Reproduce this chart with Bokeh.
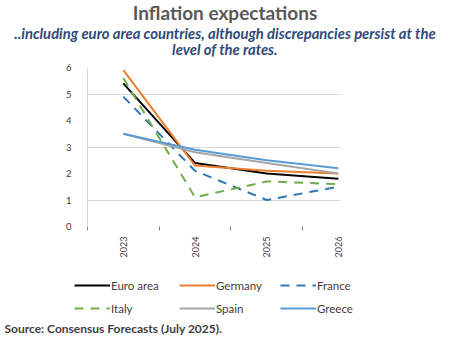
import math
from bokeh.plotting import figure
from bokeh.layouts import column
from bokeh.models import Range1d, FixedTicker, Legend, LegendItem
from bokeh.core.properties import value
from bokeh.embed import file_html
from bokeh.resources import INLINE

# ---- data ----
years = [2023, 2024, 2025, 2026]
year_labels = ["2023", "2024", "2025", "2026"]
euro_area = [5.4, 2.4, 2.0, 1.8]
germany = [5.9, 2.3, 2.1, 2.0]
france = [4.9, 2.1, 1.0, 1.5]
italy = [5.6, 1.1, 1.7, 1.6]
spain = [3.5, 2.8, 2.4, 2.0]
greece = [3.5, 2.9, 2.5, 2.2]
y_ticks = [0, 1, 2, 3, 4, 5, 6]
grid_ticks = [1, 3, 5]
cat_bounds = [2022.5, 2023.5, 2024.5, 2025.5]

title_text = "Inflation expectations"
subtitle1 = "..including euro area countries, although discrepancies persist at the"
subtitle2 = "level of the rates."
source_text = "Source: Consensus Forecasts (July 2025)."

series = [
    ("Euro area", euro_area, "black", None),
    ("Germany", germany, "#ED7D31", None),
    ("France", france, "#2E75B6", "9 7"),
    ("Italy", italy, "#70AD47", "9 7"),
    ("Spain", spain, "#A5A5A5", None),
    ("Greece", greece, "#5B9BD5", None),
]

FONT = "Lato"
W = 449


def no_align(f):
    if "frame_align" in f.properties():
        f.frame_align = False


def blank_fig(h):
    f = figure(width=W, height=h, output_backend="svg", toolbar_location=None,
               x_range=Range1d(0, W), y_range=Range1d(h, 0),
               x_axis_type=None, y_axis_type=None, min_border=0)
    f.outline_line_color = None
    f.grid.visible = False
    no_align(f)
    return f


# ---- header ----
header = blank_fig(62)
header.text(x=[W / 2], y=[12], text=[title_text], text_font=value(FONT),
            text_font_size="19px", text_font_style="bold", text_color="#595959",
            text_align="center", text_baseline="middle")
header.text(x=[W / 2, W / 2], y=[32, 48], text=[subtitle1, subtitle2],
            text_font=value(FONT), text_font_size="14.8px",
            text_font_style="bold italic", text_color="#2F4A7A",
            text_align="center", text_baseline="middle")

# ---- main chart ----
p = figure(width=W, height=206, output_backend="svg", toolbar_location=None,
           x_range=Range1d(2022.5, 2026.03), y_range=Range1d(0, 6),
           min_border_left=87, min_border_right=109, min_border_top=5,
           min_border_bottom=42)
p.outline_line_color = None
no_align(p)

p.yaxis.ticker = FixedTicker(ticks=y_ticks)
p.yaxis.axis_line_color = "#D9D9D9"
p.yaxis.major_tick_line_color = None
p.yaxis.minor_tick_line_color = None
p.yaxis.major_label_standoff = 10
p.yaxis.major_label_text_font = FONT
p.yaxis.major_label_text_font_size = "9.5px"
p.yaxis.major_label_text_color = "#404040"

p.xaxis.ticker = FixedTicker(ticks=years, minor_ticks=cat_bounds)
p.xaxis.major_label_overrides = {y: l for y, l in zip(years, year_labels)}
p.xaxis.axis_line_color = None
p.xaxis.major_tick_line_color = None
p.xaxis.minor_tick_line_color = "#808080"
p.xaxis.minor_tick_out = 4
p.xaxis.minor_tick_in = 0
p.xaxis.major_label_orientation = math.pi / 2
p.xaxis.major_label_standoff = 4
p.xaxis.major_label_text_font = FONT
p.xaxis.major_label_text_font_size = "9px"
p.xaxis.major_label_text_color = "#404040"

p.xgrid.grid_line_color = None
p.ygrid.ticker = FixedTicker(ticks=grid_ticks)
p.ygrid.grid_line_color = "#D9D9D9"

for name, vals, color, dash in series:
    kw = dict(line_color=color, line_width=2)
    if dash:
        kw["line_dash"] = dash
    p.line(years, vals, **kw)

# ---- footer with legend and source ----
footer = blank_fig(72)
leg_r = {}
for name, vals, color, dash in series:
    kw = dict(line_color=color, line_width=2)
    if dash:
        kw["line_dash"] = dash
    # same series, lying outside this strip's visible range: only used as legend keys
    leg_r[name] = footer.line(years, vals, **kw)


def make_legend(names, x):
    lg = Legend(items=[LegendItem(label=n, renderers=[leg_r[n]]) for n in names],
                location=(x, 22), orientation="vertical",
                glyph_width=36, glyph_height=20, spacing=3, padding=0, margin=0,
                label_standoff=1, label_text_font=FONT, label_text_font_size="11.5px",
                label_text_color="#404040", border_line_color=None,
                background_fill_alpha=0)
    footer.add_layout(lg, "center")


make_legend(["Euro area", "Italy"], 74)
make_legend(["Germany", "Spain"], 179)
make_legend(["France", "Greece"], 280)

footer.text(x=[4], y=[60], text=[source_text], text_font=value(FONT),
            text_font_size="12px", text_font_style="bold", text_color="#404040",
            text_align="left", text_baseline="middle")

layout = column(header, p, footer, spacing=0)
open("out.html", "w").write(file_html(layout, INLINE))
